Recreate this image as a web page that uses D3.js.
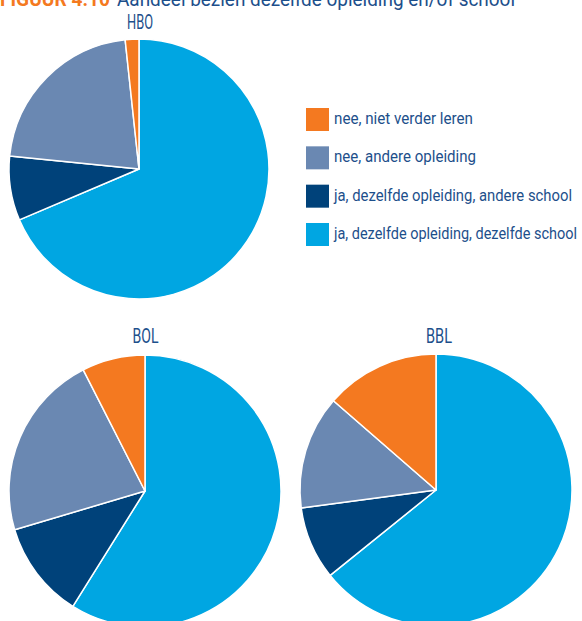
<!DOCTYPE html>
<html><head><meta charset="utf-8">
<script src="https://cdn.jsdelivr.net/npm/d3@7"></script>
<style>
html,body{margin:0;padding:0;background:#fff;overflow:hidden}
text{font-family:Roboto,"Noto Sans",sans-serif}
</style></head>
<body><svg id="c" width="582" height="621"></svg>
<script>
const categories = ["ja, dezelfde opleiding, dezelfde school","ja, dezelfde opleiding, andere school","nee, andere opleiding","nee, niet verder leren"];
const legendOrder = ["nee, niet verder leren","nee, andere opleiding","ja, dezelfde opleiding, andere school","ja, dezelfde opleiding, dezelfde school"];
const legendWidths = [139, 142, 238, 243];
const colors = ["#00a6e2","#00427a","#6a88b2","#f47920"];
const groups = ["HBO","BOL","BBL"];
const hboValues = [68.6, 8.0, 21.7, 1.7];
const bolValues = [58.9, 11.5, 22.1, 7.5];
const bblValues = [64.2, 8.7, 13.5, 13.6];
const titleLabel = "FIGUUR 4.10";
const titleText = "Aandeel bezien dezelfde opleiding en/of school";

const svg = d3.select("#c");
const color = d3.scaleOrdinal().domain(categories).range(colors);
const navy = "#1d4f8b";

// title (cut off at top edge, as in the reference)
svg.append("text").attr("x", 0).attr("y", 6).attr("fill","#f47920")
  .style("font-size","20px").style("font-weight","bold")
  .attr("textLength",110).attr("lengthAdjust","spacingAndGlyphs").text(titleLabel);
svg.append("text").attr("x", 117).attr("y", 6).attr("fill",navy)
  .style("font-size","20px")
  .attr("textLength",398).attr("lengthAdjust","spacingAndGlyphs").text(titleText);

const pies = [
  {name:groups[0], values:hboValues, cx:139, cy:169, r:130, lx:140, ly:29},
  {name:groups[1], values:bolValues, cx:145, cy:491, r:136, lx:145.5, ly:343},
  {name:groups[2], values:bblValues, cx:436, cy:490, r:136, lx:439, ly:343}
];
const pie = d3.pie().sort(null).value(d => d.v);
pies.forEach(p => {
  const g = svg.append("g").attr("transform", `translate(${p.cx},${p.cy})`);
  const arc = d3.arc().innerRadius(0).outerRadius(p.r);
  const data = categories.map((c,i) => ({c, v:p.values[i]}));
  g.selectAll("path").data(pie(data)).join("path")
    .attr("d", arc).attr("fill", d => color(d.data.c))
    .attr("stroke","#fff").attr("stroke-width",1.5).attr("stroke-linejoin","round");
  svg.append("text").attr("x", p.lx - 13).attr("y", p.ly)
    .attr("fill", navy).style("font-size","20px")
    .attr("textLength",26).attr("lengthAdjust","spacingAndGlyphs").text(p.name);
});

// legend
const lg = svg.append("g");
const ly = d3.scalePoint().domain(legendOrder).range([108, 223]);
legendOrder.forEach((c,i) => {
  lg.append("rect").attr("x",306).attr("y",ly(c)).attr("width",23).attr("height",23).attr("fill",color(c));
  lg.append("text").attr("x",334).attr("y",ly(c)+16).attr("fill",navy).style("font-size","16px")
    .attr("textLength",legendWidths[i]).attr("lengthAdjust","spacingAndGlyphs").text(c);
});
</script></body></html>
